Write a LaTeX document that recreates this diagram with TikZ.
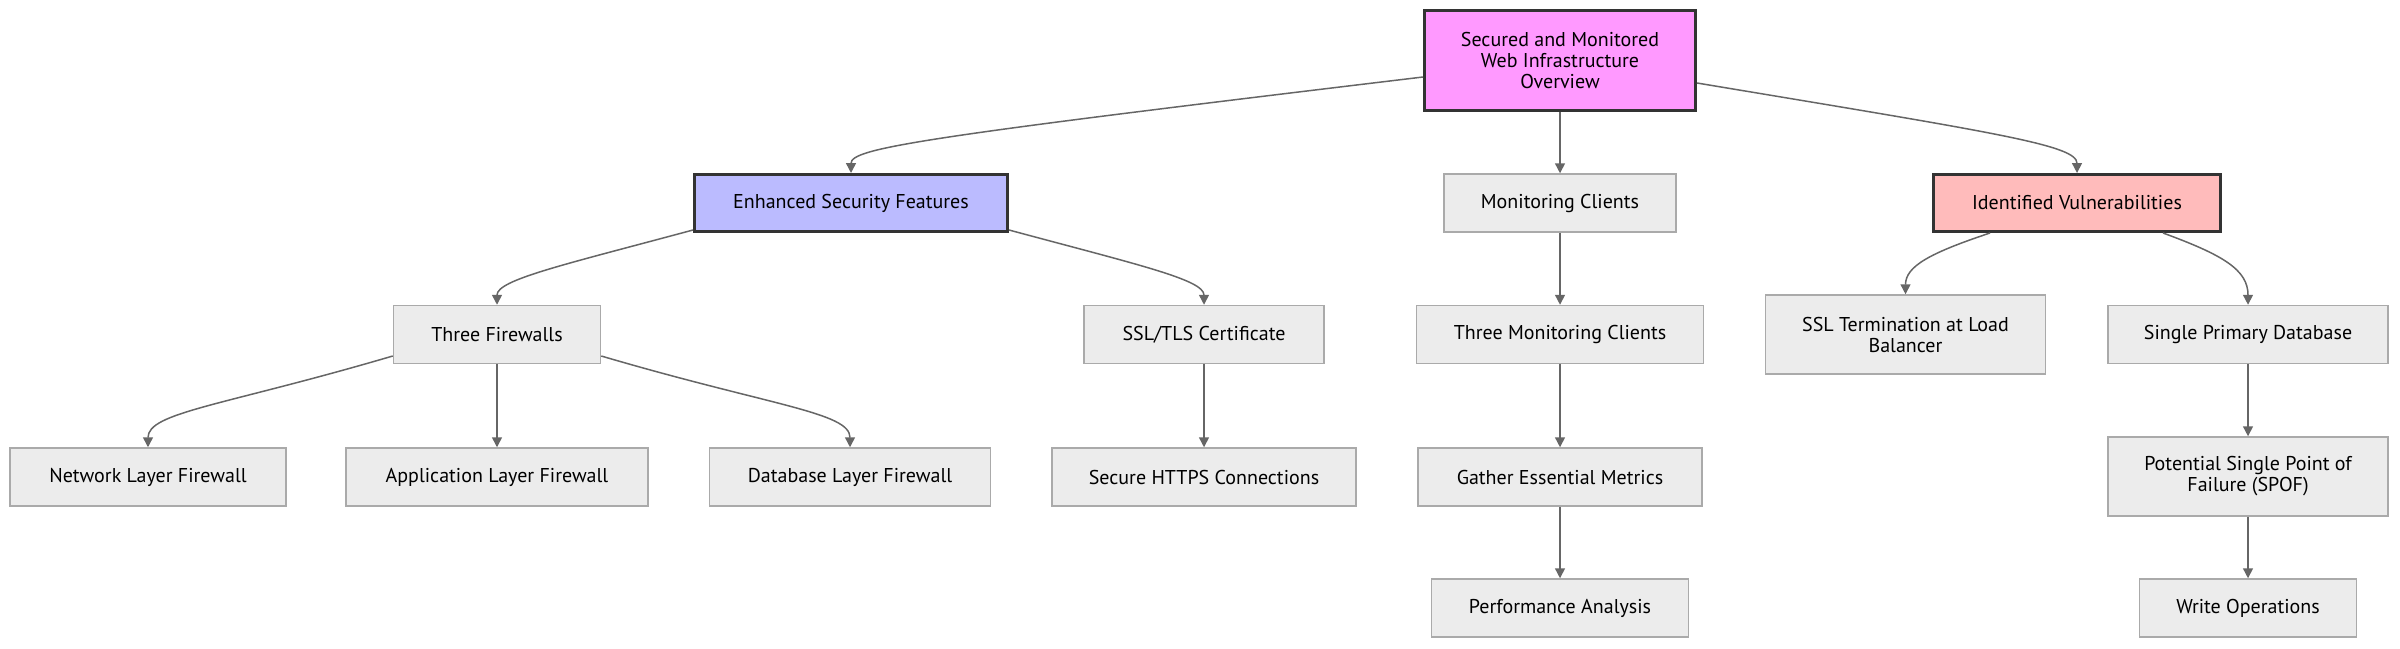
\documentclass[tikz,border=0pt]{standalone}
\usepackage{fontspec}
\setmainfont{PT Sans}
\usetikzlibrary{arrows.meta}
\definecolor{rootfill}{HTML}{FF99FF}
\definecolor{secfill}{HTML}{BBBBFF}
\definecolor{vulfill}{HTML}{FFBBBB}
\definecolor{boxfill}{HTML}{ECECEC}
\definecolor{boxline}{HTML}{AAAAAA}
\definecolor{darkline}{HTML}{333333}
\definecolor{linkgrey}{HTML}{666666}

\begin{document}
\begin{tikzpicture}
        [x=1pt, y=-1pt,
         box/.style={rectangle, inner sep=0pt, align=center, font=\fontsize{20}{21}\selectfont},
         grey/.style={box, fill=boxfill, draw=boxline, line width=1.5pt, minimum height=58pt},
         tall/.style={grey, minimum height=79pt},
         pink/.style={box, fill=rootfill, draw=darkline, line width=3pt},
         blue/.style={box, fill=secfill, draw=darkline, line width=3pt, minimum height=57pt},
         rose/.style={box, fill=vulfill, draw=darkline, line width=3pt, minimum height=57pt},
         link/.style={draw=linkgrey, line width=1.5pt, -{Triangle[length=10pt,width=10pt]}}]
        \useasboundingbox (0,0) rectangle (2400,648);
        \path node (root) at (1560,60.5) [pink, minimum width=271pt, minimum height=100pt] {Secured and Monitored\\Web Infrastructure\\Overview}
              node (esf) at (851,203) [blue, minimum width=313pt] {Enhanced Security Features}
              node (mc) at (1560,203) [grey, minimum width=232pt] {Monitoring Clients}
              node (iv) at (2077,203) [rose, minimum width=287pt] {Identified Vulnerabilities}
              node (tf) at (497,334.5) [grey, minimum width=207pt] {Three Firewalls}
              node (ssl) at (1204,334.5) [grey, minimum width=240pt] {SSL/TLS Certificate}
              node (tmc) at (1560,334.5) [grey, minimum width=287pt] {Three Monitoring Clients}
              node (sslt) at (1905.5,334.5) [tall, minimum width=280pt] {SSL Termination at Load\\Balancer}
              node (spd) at (2248,334.5) [grey, minimum width=280pt] {Single Primary Database}
              node (nlf) at (148,477) [grey, minimum width=276pt] {Network Layer Firewall}
              node (alf) at (497,477) [grey, minimum width=302pt] {Application Layer Firewall}
              node (dlf) at (850,477) [grey, minimum width=281pt] {Database Layer Firewall}
              node (https) at (1204,477) [grey, minimum width=304pt] {Secure HTTPS Connections}
              node (gem) at (1560,477) [grey, minimum width=284pt] {Gather Essential Metrics}
              node (spof) at (2248,476.5) [tall, minimum width=280pt] {Potential Single Point of\\Failure (SPOF)}
              node (pa) at (1560,608) [grey, minimum width=257pt] {Performance Analysis}
              node (wo) at (2248,608) [grey, minimum width=217pt] {Write Operations};
        \foreach \a/\b in {root/mc, mc/tmc, tmc/gem, gem/pa, ssl/https, tf/alf, spd/spof, spof/wo}
          \draw[link] (\a) -- (\b);
        \draw[link] ([yshift=-16.5pt]root.west) .. controls +(-500,60) and +(0,-25) .. (esf.north);
        \draw[link] ([yshift=-22.5pt]root.east) .. controls +(300,50) and +(0,-28) .. (iv.north);
        \draw[link] ([yshift=-27pt]esf.west) .. controls +(-130,35) and +(0,-25) .. (tf.north);
        \draw[link] ([yshift=-27pt]esf.east) .. controls +(130,35) and +(0,-25) .. (ssl.north);
        \draw[link] ([yshift=-21.5pt]tf.west) .. controls +(-170,50) and +(0,-35) .. (nlf.north);
        \draw[link] ([yshift=-21.5pt]tf.east) .. controls +(170,50) and +(0,-35) .. (dlf.north);
        \draw[link] ([xshift=-87pt]iv.south) .. controls +(-60,20) and +(0,-28) .. (sslt.north);
        \draw[link] ([xshift=86pt]iv.south) .. controls +(60,22) and +(0,-35) .. (spd.north);
      \end{tikzpicture}
\end{document}
